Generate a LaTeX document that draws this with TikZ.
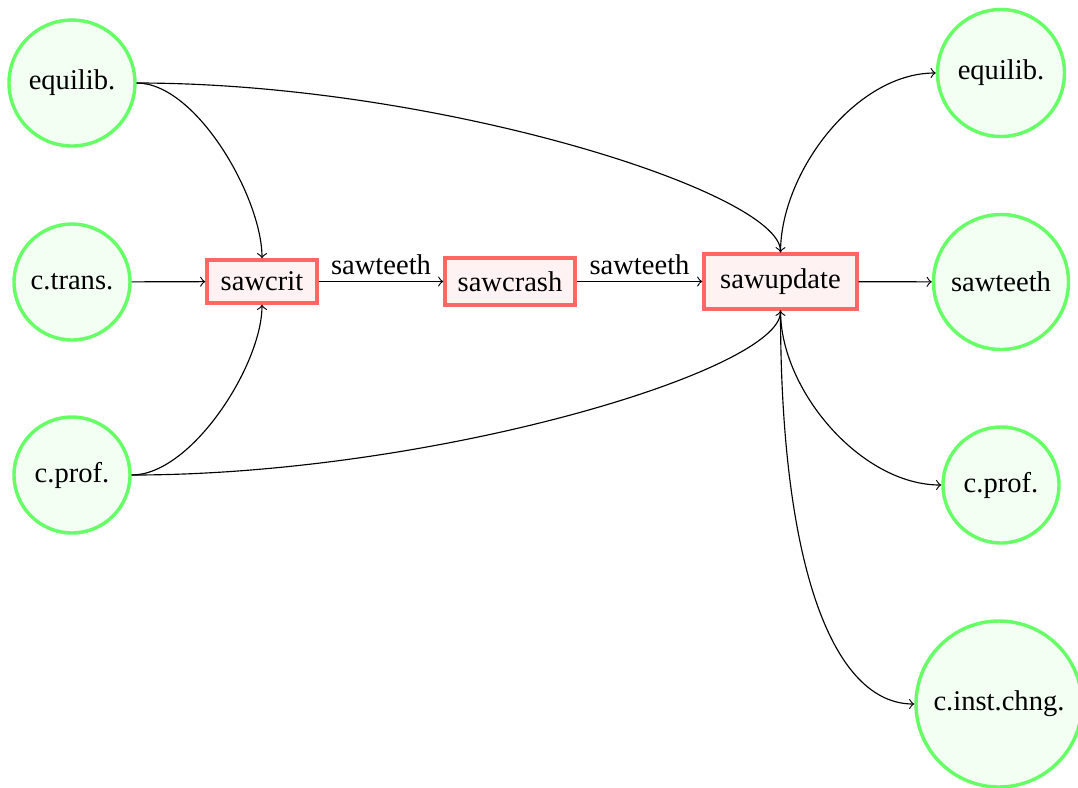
\documentclass[tikz,border=0pt]{standalone}
\usepackage{fontspec}
\setmainfont{Liberation Serif}
\begin{document}
\begin{tikzpicture}[x=0.35pt,y=-0.35pt,
  state/.style={circle,draw=green!60,fill=green!5,line width=1.2pt,inner sep=0pt},
  proc/.style={rectangle,draw=red!60,fill=red!5,line width=1.2pt,inner sep=0pt},
  conn/.style={->,line width=0.4pt},
  lbl/.style={above,inner sep=2pt}]
\useasboundingbox (0,0) rectangle (1078,787);
% left inputs
\node[state,minimum size=44.1pt] (eqL) at (72,83) {equilib.};
\node[state,minimum size=40.6pt] (ctr) at (72,282) {c.trans.};
\node[state,minimum size=40.6pt] (cpL) at (72,475) {c.prof.};
% processes
\node[proc,minimum width=38.5pt,minimum height=15.05pt] (crit) at (262,281.5) {sawcrit};
\node[proc,minimum width=45.5pt,minimum height=16.45pt] (crash) at (510,281.5) {sawcrash};
\node[proc,minimum width=53.55pt,minimum height=19.25pt] (upd) at (780.5,281.5) {sawupdate};
% right outputs
\node[state,minimum size=44.45pt] (eqR) at (1001,73) {equilib.};
\node[state,minimum size=47.25pt] (stR) at (1001,282) {sawteeth};
\node[state,minimum size=40.6pt] (cpR) at (1001,485) {c.prof.};
\node[state,minimum size=58.1pt] (cic) at (999,704) {c.inst.chng.};
% connectors
\draw[conn] (eqL.east) .. controls +(60,0) and +(0,-60) .. (crit.north);
\draw[conn] (eqL.east) .. controls +(300,0) and +(0,-60) .. (upd.north);
\draw[conn] (ctr) -- (crit);
\draw[conn] (cpL.east) .. controls +(60,0) and +(0,60) .. (crit.south);
\draw[conn] (cpL.east) .. controls +(300,0) and +(0,60) .. (upd.south);
\draw[conn] (crit) -- node[lbl] {sawteeth} (crash);
\draw[conn] (crash) -- node[lbl] {sawteeth} (upd);
\draw[conn] (upd.north) .. controls +(0,-80) and +(-80,0) .. (eqR.west);
\draw[conn] (upd) -- (stR);
\draw[conn] (upd.south) .. controls +(0,80) and +(-80,0) .. (cpR.west);
\draw[conn] (upd.south) .. controls +(0,260) and +(-80,0) .. (cic.west);
\end{tikzpicture}
\end{document}
